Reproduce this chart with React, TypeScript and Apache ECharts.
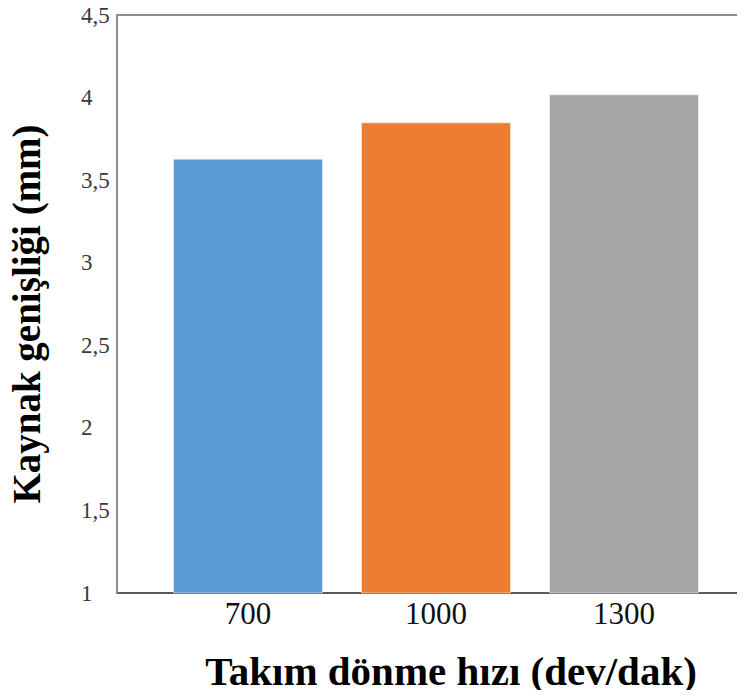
import React, { useEffect, useRef } from "react";
import * as echarts from "echarts";

const categories = ["700", "1000", "1300"];
const values = [3.63, 3.85, 4.02];
const barColors = ["#5B9BD5", "#ED7D31", "#A5A5A5"];
const yTicks = [1, 1.5, 2, 2.5, 3, 3.5, 4, 4.5];
const xTitle = "Takım dönme hızı (dev/dak)";
const yTitle = "Kaynak genişliği (mm)";

const FONT = "Times New Roman, Liberation Serif, DejaVu Serif, serif";

export default function App() {
  const ref = useRef<HTMLDivElement>(null);
  useEffect(() => {
    if (!ref.current) return;
    const chart = echarts.init(ref.current, undefined, { renderer: "svg" });
    chart.setOption({
      animation: false,
      backgroundColor: "#ffffff",
      textStyle: { fontFamily: FONT },
      grid: { left: 154, right: 27, top: 15, bottom: 105 },
      xAxis: {
        type: "category",
        data: categories,
        axisLine: { show: false },
        axisTick: { show: false },
        axisLabel: { fontFamily: FONT, fontSize: 31, color: "#111", margin: 5 },
      },
      yAxis: {
        type: "value",
        min: yTicks[0],
        max: yTicks[yTicks.length - 1],
        interval: 0.5,
        offset: 37,
        axisLine: { show: true, lineStyle: { color: "#8c8c8c", width: 2 } },
        axisTick: { show: false },
        splitLine: { show: false },
        axisLabel: {
          fontFamily: FONT,
          fontSize: 23,
          color: "#3a3a3a",
          align: "left",
          margin: 36,
          formatter: (v: number) => String(v).replace(".", ","),
        },
      },
      series: [
        {
          type: "bar",
          data: values.map((v, i) => ({ value: v, itemStyle: { color: barColors[i] } })),
          barWidth: 150,
          itemStyle: { borderColor: "rgba(255,255,255,0.5)", borderWidth: 1 },
        },
      ],
      graphic: [
        { type: "line", shape: { x1: 117, y1: 15, x2: 745, y2: 15 }, style: { stroke: "#8c8c8c", lineWidth: 2 } },
        { type: "line", shape: { x1: 116, y1: 593, x2: 745, y2: 593 }, style: { stroke: "#595959", lineWidth: 2 } },
        {
          type: "text",
          x: 451,
          y: 671,
          style: {
            text: xTitle,
            fontFamily: FONT,
            fontSize: 41,
            fontWeight: "bold",
            fill: "#000",
            align: "center",
            verticalAlign: "middle",
          },
        },
        {
          type: "text",
          x: 26,
          y: 314,
          rotation: Math.PI / 2,
          style: {
            text: yTitle,
            fontFamily: FONT,
            fontSize: 39,
            fontWeight: "bold",
            fill: "#000",
            align: "center",
            verticalAlign: "middle",
          },
        },
      ],
    });
    return () => chart.dispose();
  }, []);
  return <div ref={ref} style={{ width: 745, height: 698, margin: -8 }} />;
}
